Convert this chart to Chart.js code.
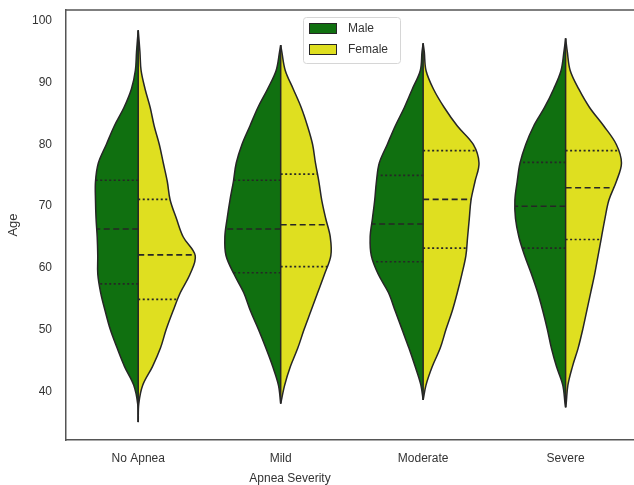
<!DOCTYPE html>
<html>
<head>
<meta charset="utf-8">
<script src="https://cdn.jsdelivr.net/npm/chart.js@4.4.1/dist/chart.umd.min.js"></script>
<style>
html, body { margin: 0; padding: 0; background: #fff; }
</style>
</head>
<body>
<canvas id="violinChart" width="634" height="485"></canvas>
<script>
// values
const categories = ['No Apnea', 'Mild', 'Moderate', 'Severe'];
const groups = ['Male', 'Female'];
const ageTicks = [40, 50, 60, 70, 80, 90, 100];

// ages at which the violin widths were read
const ageGrid = [38, 41, 44, 47, 50, 53, 56, 59, 62, 65, 68, 71, 74, 77, 80, 83, 86, 89, 92, 95];

// relative density (1 = widest half of the whole figure)
const maleDensity = [
    [0.01, 0.08, 0.24, 0.37, 0.49, 0.58, 0.66, 0.71, 0.71, 0.72, 0.74, 0.75, 0.75, 0.70, 0.56, 0.42, 0.25, 0.12, 0.05, 0.03],
    [0.00, 0.04, 0.14, 0.26, 0.39, 0.53, 0.65, 0.82, 0.96, 0.98, 0.94, 0.89, 0.83, 0.78, 0.68, 0.54, 0.40, 0.23, 0.08, 0.02],
    [0.00, 0.04, 0.14, 0.25, 0.37, 0.49, 0.61, 0.79, 0.91, 0.93, 0.89, 0.85, 0.82, 0.77, 0.63, 0.49, 0.33, 0.19, 0.05, 0.02],
    [0.01, 0.05, 0.16, 0.25, 0.32, 0.40, 0.49, 0.60, 0.72, 0.82, 0.88, 0.89, 0.85, 0.80, 0.70, 0.56, 0.37, 0.21, 0.08, 0.03]
];
const femaleDensity = [
    [0.01, 0.08, 0.25, 0.39, 0.49, 0.61, 0.74, 0.91, 1.00, 0.79, 0.67, 0.56, 0.51, 0.44, 0.37, 0.28, 0.21, 0.12, 0.05, 0.03],
    [0.00, 0.07, 0.17, 0.30, 0.41, 0.53, 0.65, 0.77, 0.88, 0.87, 0.79, 0.72, 0.67, 0.61, 0.56, 0.47, 0.36, 0.22, 0.08, 0.02],
    [0.00, 0.05, 0.16, 0.30, 0.40, 0.51, 0.60, 0.68, 0.75, 0.78, 0.81, 0.84, 0.91, 0.98, 0.88, 0.60, 0.37, 0.18, 0.05, 0.02],
    [0.01, 0.04, 0.12, 0.22, 0.30, 0.37, 0.44, 0.51, 0.57, 0.63, 0.69, 0.76, 0.89, 0.98, 0.89, 0.67, 0.42, 0.23, 0.08, 0.03]
];

// youngest / oldest end of each violin
const lowTip = [35, 38, 38.6, 37.4];
const highTip = [98.5, 96.1, 96.4, 97.2];

// lower quartile, median, upper quartile
const maleQuartiles = [[57.4, 66.3, 74.2], [59.2, 66.3, 74.2], [61.0, 67.1, 75.0], [63.2, 70.0, 77.1]];
const femaleQuartiles = [[54.9, 62.1, 71.1], [60.2, 67.0, 75.2], [63.2, 71.1, 79.0], [64.6, 73.0, 79.0]];

const colors = ['#107010', '#dfdf20'];
const edge = '#262626';
const halfWidth = 0.4;
const font = "'Liberation Sans', Arial, sans-serif";

const widthAt = (dens, age) => {
    for (let k = 0; k < ageGrid.length - 1; k++) {
        if (age >= ageGrid[k] && age <= ageGrid[k + 1]) {
            const t = (age - ageGrid[k]) / (ageGrid[k + 1] - ageGrid[k]);
            return dens[k] + t * (dens[k + 1] - dens[k]);
        }
    }
    return 0;
};

const halfPoints = (i, dens, side) => {
    const pts = [{ x: i, y: lowTip[i] }];
    ageGrid.forEach((a, k) => {
        if (a > lowTip[i] && a < highTip[i]) {
            pts.push({ x: i + side * dens[k] * halfWidth, y: a });
        }
    });
    pts.push({ x: i, y: highTip[i] });
    return pts;
};

const datasets = [];
categories.forEach((cat, i) => {
    [maleDensity, femaleDensity].forEach((dens, g) => {
        const side = g === 0 ? -1 : 1;
        datasets.push({
            label: groups[g],
            data: halfPoints(i, dens[i], side),
            showLine: true,
            fill: 'shape',
            backgroundColor: colors[g],
            borderColor: edge,
            borderWidth: 1.5,
            tension: 0.35,
            pointRadius: 0,
            order: 2
        });
        const q = (g === 0 ? maleQuartiles : femaleQuartiles)[i];
        q.forEach((age, n) => {
            datasets.push({
                label: '',
                data: [{ x: i, y: age }, { x: i + side * widthAt(dens[i], age) * halfWidth, y: age }],
                showLine: true,
                borderColor: edge,
                borderWidth: 1.6,
                borderDash: n === 1 ? [6, 3.5] : [2, 2.5],
                pointRadius: 0,
                order: 1
            });
        });
    });
    datasets.push({
        label: '',
        data: [{ x: i, y: lowTip[i] }, { x: i, y: highTip[i] }],
        showLine: true,
        borderColor: edge,
        borderWidth: 1.5,
        pointRadius: 0,
        order: 1
    });
});

const framePlugin = {
    id: 'frame',
    afterDraw(chart) {
        const { ctx, chartArea } = chart;
        ctx.save();
        ctx.strokeStyle = '#555';
        ctx.lineWidth = 1.5;
        ctx.beginPath();
        ctx.moveTo(chartArea.left, chartArea.top);
        ctx.lineTo(chartArea.right, chartArea.top);
        ctx.stroke();

        // x axis title
        ctx.fillStyle = '#333';
        ctx.font = '12px ' + font;
        ctx.textAlign = 'center';
        ctx.textBaseline = 'middle';
        ctx.fillText('Apnea Severity', chartArea.left + 224, 479);

        // legend
        const lx = 303, ly = 17;
        ctx.fillStyle = 'rgba(255,255,255,0.85)';
        ctx.strokeStyle = '#d6d6d6';
        ctx.lineWidth = 1;
        ctx.beginPath();
        ctx.roundRect(lx + 0.5, ly + 0.5, 97, 46, 3);
        ctx.fill();
        ctx.stroke();
        groups.forEach((name, g) => {
            const y = ly + 6 + g * 21;
            ctx.fillStyle = colors[g];
            ctx.fillRect(lx + 6, y, 28, 11);
            ctx.strokeStyle = edge;
            ctx.strokeRect(lx + 6.5, y + 0.5, 27, 10);
            ctx.fillStyle = '#333';
            ctx.textAlign = 'left';
            ctx.fillText(name, lx + 45, y + 6);
        });
        ctx.restore();
    }
};

new Chart(document.getElementById('violinChart'), {
    type: 'scatter',
    data: { datasets },
    options: {
        responsive: false,
        animation: false,
        events: [],
        layout: { padding: { top: 10, right: 0, bottom: 0, left: 0 } },
        plugins: {
            legend: { display: false },
            tooltip: { enabled: false }
        },
        scales: {
            x: {
                type: 'linear',
                min: -0.507,
                max: 3.48,
                grid: { display: false, drawTicks: false },
                border: { color: '#555', width: 1.5 },
                afterBuildTicks: (s) => { s.ticks = categories.map((c, i) => ({ value: i })); },
                afterFit: (s) => { s.height = 45; s.paddingLeft = 0; s.paddingRight = 0; },
                ticks: {
                    callback: (v, idx) => categories[idx],
                    color: '#333',
                    font: { family: font, size: 12 },
                    padding: 11,
                    maxRotation: 0
                }
            },
            y: {
                type: 'linear',
                min: 32.1,
                max: 101.8,
                grid: { display: false, drawTicks: false },
                border: { color: '#555', width: 1.5 },
                afterBuildTicks: (s) => { s.ticks = ageTicks.map(v => ({ value: v })); },
                afterFit: (s) => { s.width = 66; s.paddingTop = 0; s.paddingBottom = 0; },
                ticks: {
                    color: '#333',
                    font: { family: font, size: 12 },
                    padding: 14
                },
                title: {
                    display: true,
                    text: 'Age',
                    color: '#333',
                    font: { family: font, size: 13 },
                    padding: { top: 6, bottom: 0 }
                }
            }
        }
    },
    plugins: [framePlugin]
});
</script>
</body>
</html>
